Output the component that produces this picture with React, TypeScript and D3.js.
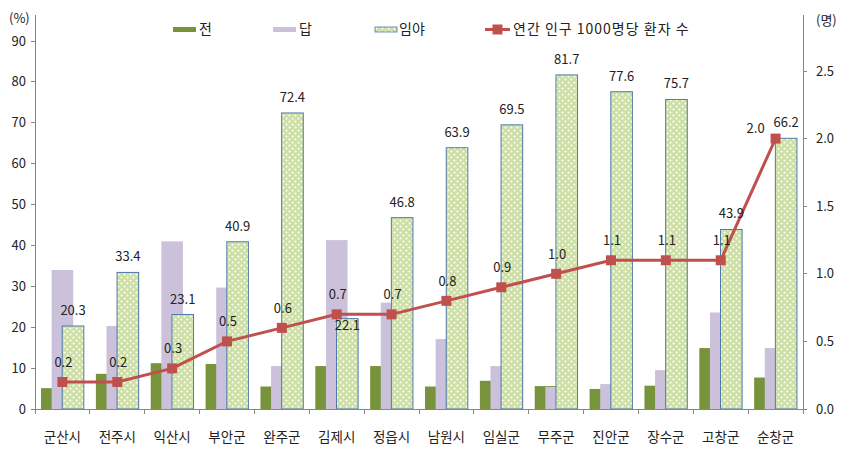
import * as d3 from "d3";

const categories = ["군산시", "전주시", "익산시", "부안군", "완주군", "김제시", "정읍시", "남원시", "임실군", "무주군", "진안군", "장수군", "고창군", "순창군"];
const jeonValues = [5.1, 8.6, 11.2, 11.0, 5.5, 10.5, 10.5, 5.5, 6.9, 5.6, 4.9, 5.7, 14.9, 7.7];
const dapValues = [34.0, 20.3, 41.0, 29.7, 10.5, 41.3, 26.0, 17.1, 10.5, 5.4, 6.1, 9.5, 23.6, 14.9];
const imyaValues = [20.3, 33.4, 23.1, 40.9, 72.4, 22.1, 46.8, 63.9, 69.5, 81.7, 77.6, 75.7, 43.9, 66.2];
const patientValues = [0.2, 0.2, 0.3, 0.5, 0.6, 0.7, 0.7, 0.8, 0.9, 1.0, 1.1, 1.1, 1.1, 2.0];
const leftTicks = [0, 10, 20, 30, 40, 50, 60, 70, 80, 90];
const rightTicks = [0, 0.5, 1.0, 1.5, 2.0, 2.5];
const legendLabels = ["전", "답", "임야", "연간 인구 1000명당 환자 수"];

const FONT = "'Noto Sans CJK KR', 'Noto Sans', sans-serif";
const GREEN = "#77933c";
const PURPLE = "#ccc1da";
const RED = "#c0504d";
const AXIS = "#868686";
const BORDER = "#4f79ab";

const left = 35;
const right = 803;
const top = 15;
const bottom = 409;

export default function App() {
  const x = d3.scaleBand<string>().domain(categories).range([left, right]).padding(0);
  const y = d3.scaleLinear().domain([0, 90]).range([bottom, 41]);
  const y2 = d3.scaleLinear().domain([0, 2.5]).range([bottom, 71]);

  // overlapped clustered bars, like the spreadsheet original
  const barW = 21.6;
  const step = 10.6;
  const groupW = step * 2 + barW;
  const cx = (c: string) => (x(c) ?? 0) + x.bandwidth() / 2;
  const barX = (c: string, k: number) => cx(c) - groupW / 2 + k * step;

  const line = d3
    .line<number>()
    .x((_, i) => cx(categories[i]))
    .y((d) => y2(d));

  return (
    <svg width={862} height={474} style={{ position: "absolute", left: 0, top: 0 }} fontFamily={FONT}>
      <defs>
        <pattern id="imya" width={6} height={6} patternUnits="userSpaceOnUse">
          <rect width={6} height={6} fill="#cfe0a8" />
          <circle cx={1.5} cy={1.5} r={1.5} fill="#fbfdf4" stroke="#b3cb83" strokeWidth={0.5} />
          <circle cx={4.5} cy={4.5} r={1.5} fill="#fbfdf4" stroke="#b3cb83" strokeWidth={0.5} />
        </pattern>
      </defs>
      <rect width={862} height={474} fill="#fff" />

      {categories.map((c, i) => (
        <g key={c}>
          <rect x={barX(c, 0)} y={y(jeonValues[i])} width={barW} height={bottom - y(jeonValues[i])} fill={GREEN} />
          <rect x={barX(c, 1)} y={y(dapValues[i])} width={barW} height={bottom - y(dapValues[i])} fill={PURPLE} />
          <rect
            x={barX(c, 2)}
            y={y(imyaValues[i])}
            width={barW}
            height={bottom - y(imyaValues[i])}
            fill="url(#imya)"
            stroke={BORDER}
            strokeWidth={1}
          />
        </g>
      ))}

      <g stroke={AXIS} strokeWidth={1} shapeRendering="crispEdges">
        <line x1={left} x2={left} y1={top} y2={bottom} />
        <line x1={right} x2={right} y1={top} y2={bottom} />
        <line x1={left} x2={right} y1={bottom} y2={bottom} />
        {leftTicks.map((t) => (
          <line key={t} x1={left - 4} x2={left} y1={y(t)} y2={y(t)} />
        ))}
        {rightTicks.map((t) => (
          <line key={t} x1={right} x2={right + 4} y1={y2(t)} y2={y2(t)} />
        ))}
        {categories.map((c) => (
          <line key={c} x1={x(c)} x2={x(c)} y1={bottom} y2={bottom + 5} />
        ))}
        <line x1={right} x2={right} y1={bottom} y2={bottom + 5} />
      </g>

      <g fontSize={13} fill="#222">
        {leftTicks.map((t) => (
          <text key={t} x={26} y={y(t)} dy="0.35em" textAnchor="end">
            {t}
          </text>
        ))}
        {rightTicks.map((t) => (
          <text key={t} x={816} y={y2(t)} dy="0.35em">
            {t.toFixed(1)}
          </text>
        ))}
        <text x={9} y={18} dy="0.35em">(%)</text>
        <text x={816} y={20} dy="0.35em">(명)</text>
        {categories.map((c) => (
          <text key={c} x={cx(c)} y={437} dy="0.35em" textAnchor="middle" fontSize={13.5}>
            {c}
          </text>
        ))}
      </g>

      <path d={line(patientValues) ?? ""} fill="none" stroke={RED} strokeWidth={3} />
      {patientValues.map((v, i) => (
        <rect key={i} x={cx(categories[i]) - 5} y={y2(v) - 5} width={10} height={10} fill={RED} />
      ))}

      <g fontSize={13} fill="#222" textAnchor="middle">
        {imyaValues.map((v, i) => {
          const inside = categories[i] === "김제시";
          return (
            <text key={i} x={barX(categories[i], 2) + barW / 2} y={inside ? y(v) + 11 : y(v) - 11}>
              {v.toFixed(1)}
            </text>
          );
        })}
        {patientValues.map((v, i) => {
          const shifted = i === patientValues.length - 1;
          return (
            <text key={i} x={cx(categories[i]) + (shifted ? -20 : 1)} y={y2(v) - (shifted ? 6 : 15)}>
              {v.toFixed(1)}
            </text>
          );
        })}
      </g>

      <g fontSize={14} fill="#222">
        <rect x={173} y={27} width={23} height={5} fill={GREEN} />
        <text x={199} y={29} dy="0.35em">{legendLabels[0]}</text>
        <rect x={273} y={27} width={23} height={5} fill={PURPLE} />
        <text x={299} y={29} dy="0.35em">{legendLabels[1]}</text>
        <rect x={375} y={27} width={22} height={5} fill="url(#imya)" stroke={BORDER} strokeWidth={0.8} />
        <text x={399} y={29} dy="0.35em">{legendLabels[2]}</text>
        <line x1={485} x2={510} y1={29.5} y2={29.5} stroke={RED} strokeWidth={3} />
        <rect x={492.5} y={24.5} width={10} height={10} fill={RED} />
        <text x={513} y={29} dy="0.35em" letterSpacing={1}>{legendLabels[3]}</text>
      </g>
    </svg>
  );
}
